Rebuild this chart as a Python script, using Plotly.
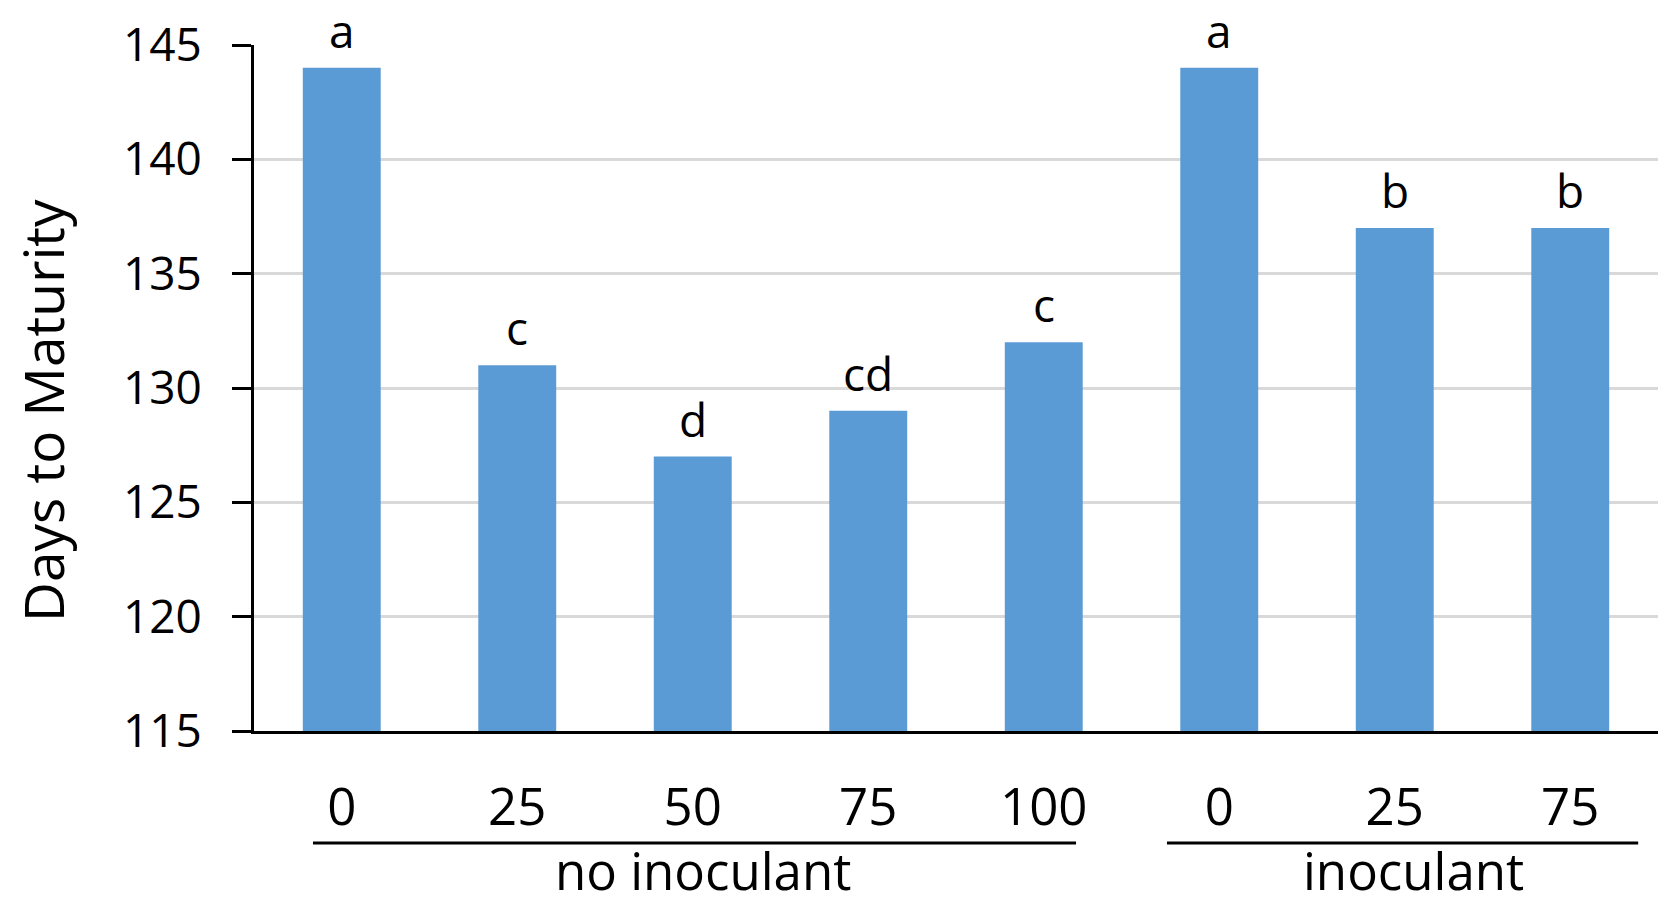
import plotly.graph_objects as go

rates = ["0", "25", "50", "75", "100", "0", "25", "75"]
groups = ["no inoculant", "inoculant"]
days = [144, 131, 127, 129, 132, 144, 137, 137]
letters = ["a", "c", "d", "cd", "c", "a", "b", "b"]
y_ticks = [115, 120, 125, 130, 135, 140, 145]
y_title = "Days to Maturity"

FONT = "Open Sans"
BAR = "#5B9BD5"

xpos = list(range(len(rates)))

fig = go.Figure()
fig.add_trace(go.Bar(
    x=xpos, y=days,
    marker=dict(color=BAR, line=dict(width=0)),
    width=0.444,
    showlegend=False,
))

# significance letters above bars
for xi, v, t in zip(xpos, days, letters):
    fig.add_annotation(x=xi, y=v, text=t, showarrow=False, xref="x", yref="y",
                       yanchor="bottom", yshift=5,
                       font=dict(family=FONT, size=46, color="black"))

# group underlines and labels
underline_spans = [(-0.164, 4.184), (4.702, 7.387)]
label_centers = [2.058, 6.107]
for (x0, x1), xc, g in zip(underline_spans, label_centers, groups):
    fig.add_shape(type="line", xref="x", yref="paper", x0=x0, x1=x1,
                  y0=-0.1633, y1=-0.1633, line=dict(color="black", width=3))
    fig.add_annotation(x=xc, y=-0.2558, xref="x", yref="paper", text=g,
                       showarrow=False, yanchor="bottom", borderpad=0,
                       font=dict(family=FONT, size=51, color="black"))

# y-axis title (placed slightly below the plot's centre, as in the original)
fig.add_annotation(x=-0.1503, y=0.468, xref="paper", yref="paper",
                   text=y_title, textangle=-90, showarrow=False,
                   xanchor="center", yanchor="middle",
                   font=dict(family=FONT, size=55, color="black"))

fig.update_layout(
    width=1661, height=907,
    margin=dict(l=254, r=3, t=45, b=176),
    paper_bgcolor="white", plot_bgcolor="white",
    font=dict(family=FONT, color="black"),
    bargap=0.556,
    xaxis=dict(
        tickmode="array", tickvals=xpos, ticktext=rates,
        range=[-0.5, len(rates) - 0.5],
        showgrid=False, zeroline=False,
        showline=True, linecolor="black", linewidth=3,
        ticks="", ticklabelstandoff=30,
        tickfont=dict(family=FONT, size=51, color="black"),
    ),
    yaxis=dict(
        range=[115, 145], tickmode="array", tickvals=y_ticks,
        showgrid=True, gridcolor="#d9d9d9", gridwidth=3,
        zeroline=False,
        showline=True, linecolor="black", linewidth=3,
        ticks="outside", ticklen=19, tickwidth=3, tickcolor="black",
        ticklabelstandoff=21,
        tickfont=dict(family=FONT, size=46, color="black"),
    ),
)

fig.write_html("out.html", config={"displayModeBar": False},
               post_script="document.body.style.margin='0';")
